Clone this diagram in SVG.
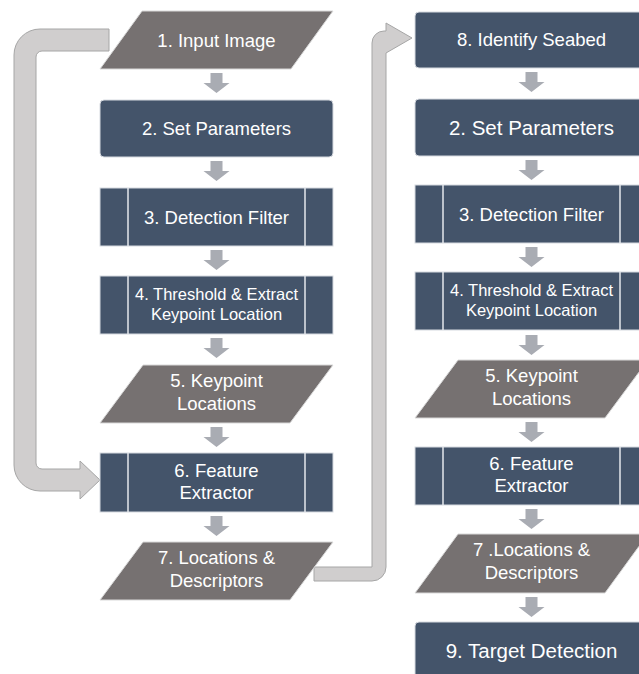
<svg xmlns="http://www.w3.org/2000/svg" width="639" height="674" viewBox="0 0 639 674">
<defs>
<style>
.box{fill:#44546A;stroke:#D6DAE0;stroke-width:1}
.par{fill:#767171;stroke:#D9D9D9;stroke-width:1}
.div{stroke:#E4E7EC;stroke-width:1.5}
.t{font-family:"Liberation Sans",Arial,sans-serif;font-size:18.5px;fill:#FFFFFF;text-anchor:middle}
.s{font-size:16.5px}
.b{font-size:20.5px}
.dn{fill:#A9ACB3}
.loop{fill:#D0CECE;stroke:#A6A6A6;stroke-width:1}
</style>
<path id="dA" d="M-6,0 H6 V10 H13 L0,20 L-13,10 H-6 Z"/>
</defs>
<rect width="639" height="674" fill="#FFFFFF"/>
<g id="connectors">
<path class="loop" d="M109,29 L40,29 A26,26 0 0 0 14,55 L14,465 A26,26 0 0 0 40,491 L80,491 L80,499 L100,480 L80,461 L80,469 L42,469 A6,6 0 0 1 36,463 L36,57 A6,6 0 0 1 42,51 L109,51 Z"/>
<path class="loop" d="M314,567 L372,567 L372,43 A12,12 0 0 1 384,31 L386,31 L386,23 L412,38 L386,53 L386,567 A14,14 0 0 1 372,581 L314,581 Z"/>
<use href="#dA" class="dn" x="216.5" y="73"/>
<use href="#dA" class="dn" x="216.5" y="161"/>
<use href="#dA" class="dn" x="216.5" y="250"/>
<use href="#dA" class="dn" x="216.5" y="338"/>
<use href="#dA" class="dn" x="216.5" y="427"/>
<use href="#dA" class="dn" x="216.5" y="516"/>
<use href="#dA" class="dn" x="531.5" y="72"/>
<use href="#dA" class="dn" x="531.5" y="160"/>
<use href="#dA" class="dn" x="531.5" y="247"/>
<use href="#dA" class="dn" x="531.5" y="335"/>
<use href="#dA" class="dn" x="531.5" y="422"/>
<use href="#dA" class="dn" x="531.5" y="509"/>
<use href="#dA" class="dn" x="531.5" y="597"/>
</g>
<g id="L1">
<polygon class="par" points="142,11 333,11 291,69 100,69"/>
<text class="t" x="216.5" y="46.5">1. Input Image</text>
</g>
<g id="L2">
<rect class="box" x="100" y="100" width="233" height="57" rx="4"/>
<text class="t" x="216.5" y="135">2. Set Parameters</text>
</g>
<g id="L3">
<rect class="box" x="100" y="188" width="233" height="58"/>
<line class="div" x1="128" y1="188" x2="128" y2="246"/>
<line class="div" x1="305" y1="188" x2="305" y2="246"/>
<text class="t" x="216.5" y="223.5">3. Detection Filter</text>
</g>
<g id="L4">
<rect class="box" x="100" y="276" width="233" height="58"/>
<line class="div" x1="128" y1="276" x2="128" y2="334"/>
<line class="div" x1="305" y1="276" x2="305" y2="334"/>
<text class="t s" x="216.5" y="300">4. Threshold &amp; Extract</text>
<text class="t s" x="216.5" y="320">Keypoint Location</text>
</g>
<g id="L5">
<polygon class="par" points="143,365 333,365 290,423 100,423"/>
<text class="t" x="216.5" y="387">5. Keypoint</text>
<text class="t" x="216.5" y="410">Locations</text>
</g>
<g id="L6">
<rect class="box" x="100" y="453" width="233" height="59"/>
<line class="div" x1="128" y1="453" x2="128" y2="512"/>
<line class="div" x1="305" y1="453" x2="305" y2="512"/>
<text class="t" x="216.5" y="477">6. Feature</text>
<text class="t" x="216.5" y="499">Extractor</text>
</g>
<g id="L7">
<polygon class="par" points="143,542 333,542 290,600 100,600"/>
<text class="t" x="216.5" y="564">7. Locations &amp;</text>
<text class="t" x="216.5" y="587">Descriptors</text>
</g>
<g id="R8">
<rect class="box" x="415" y="12" width="233" height="56" rx="4"/>
<text class="t" x="531.5" y="46">8. Identify Seabed</text>
</g>
<g id="R2">
<rect class="box" x="415" y="99" width="233" height="57" rx="4"/>
<text class="t b" x="531.5" y="135">2. Set Parameters</text>
</g>
<g id="R3">
<rect class="box" x="415" y="185" width="233" height="58"/>
<line class="div" x1="443" y1="185" x2="443" y2="243"/>
<line class="div" x1="620" y1="185" x2="620" y2="243"/>
<text class="t" x="531.5" y="220.5">3. Detection Filter</text>
</g>
<g id="R4">
<rect class="box" x="415" y="272" width="233" height="58"/>
<line class="div" x1="443" y1="272" x2="443" y2="330"/>
<line class="div" x1="620" y1="272" x2="620" y2="330"/>
<text class="t s" x="531.5" y="296">4. Threshold &amp; Extract</text>
<text class="t s" x="531.5" y="316">Keypoint Location</text>
</g>
<g id="R5">
<polygon class="par" points="458,360 648,360 605,418 415,418"/>
<text class="t" x="531.5" y="382">5. Keypoint</text>
<text class="t" x="531.5" y="405">Locations</text>
</g>
<g id="R6">
<rect class="box" x="415" y="447" width="233" height="58"/>
<line class="div" x1="443" y1="447" x2="443" y2="505"/>
<line class="div" x1="620" y1="447" x2="620" y2="505"/>
<text class="t" x="531.5" y="470">6. Feature</text>
<text class="t" x="531.5" y="492">Extractor</text>
</g>
<g id="R7">
<polygon class="par" points="458,534 648,534 605,593 415,593"/>
<text class="t" x="531.5" y="556">7 .Locations &amp;</text>
<text class="t" x="531.5" y="579">Descriptors</text>
</g>
<g id="R9">
<rect class="box" x="415" y="622" width="233" height="58" rx="4"/>
<text class="t b" x="531.5" y="658">9. Target Detection</text>
</g>
</svg>
